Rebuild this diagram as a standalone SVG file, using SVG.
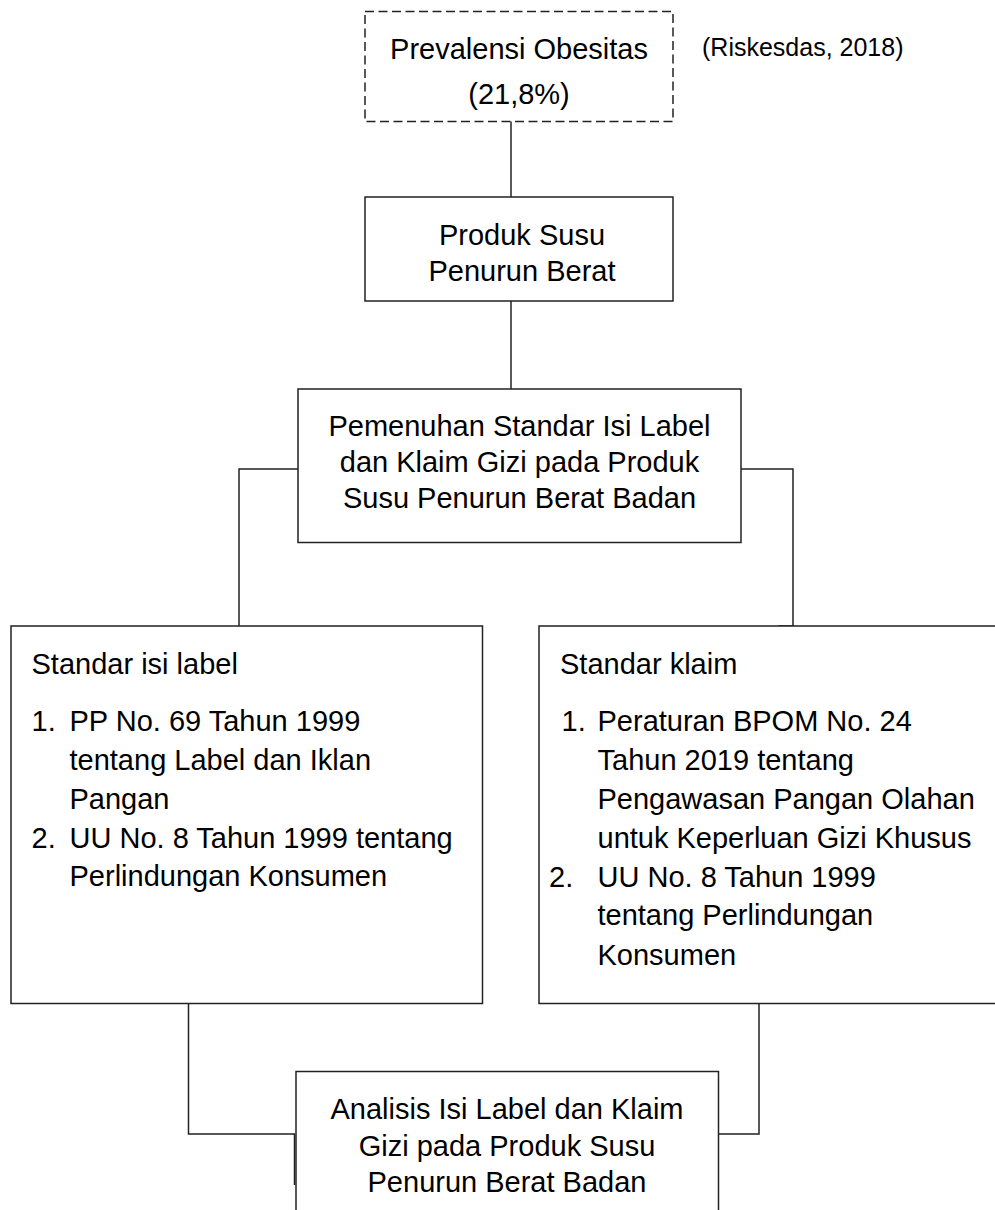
<svg xmlns="http://www.w3.org/2000/svg" width="995" height="1210" viewBox="0 0 995 1210">
<style>
.box{fill:#fff;stroke:#222;stroke-width:1.5}
.dash{fill:#fff;stroke:#222;stroke-width:1.5;stroke-dasharray:9 4.5}
.con{fill:none;stroke:#222;stroke-width:1.5}
text{font-family:"Liberation Sans",Arial,sans-serif;font-size:29px;fill:#000}
.c{text-anchor:middle}
.src{font-size:25px}
</style>
<rect width="995" height="1210" fill="#fff"/>
<g id="connectors">
<path class="con" d="M511,121 V197"/>
<path class="con" d="M511,301 V389"/>
<path class="con" d="M298,469 H239 V626"/>
<path class="con" d="M741,469 H793 V626 H778"/>
<path class="con" d="M188.5,1003 V1134 H294.5 V1185"/>
<path class="con" d="M759,1003 V1134 H718"/>
</g>
<g id="prevalensi">
<rect class="dash" x="365" y="11.5" width="308" height="110"/>
<text class="c" x="519" y="59">Prevalensi Obesitas</text>
<text class="c" x="519" y="104">(21,8%)</text>
</g>
<g id="sumber">
<text class="src" x="702" y="56">(Riskesdas, 2018)</text>
</g>
<g id="produk">
<rect class="box" x="365" y="197" width="308" height="104"/>
<text class="c" x="522" y="245">Produk Susu</text>
<text class="c" x="522" y="281">Penurun Berat</text>
</g>
<g id="pemenuhan">
<rect class="box" x="298" y="389" width="443" height="153.5"/>
<text class="c" x="519.5" y="435.5">Pemenuhan Standar Isi Label</text>
<text class="c" x="519.5" y="472">dan Klaim Gizi pada Produk</text>
<text class="c" x="519.5" y="508">Susu Penurun Berat Badan</text>
</g>
<g id="standar-isi-label">
<rect class="box" x="11" y="626" width="471.5" height="377.5"/>
<text x="31.5" y="674">Standar isi label</text>
<text x="31.5" y="731">1.</text>
<text x="69.5" y="731">PP No. 69 Tahun 1999</text>
<text x="69.5" y="769.5">tentang Label dan Iklan</text>
<text x="69.5" y="808.5">Pangan</text>
<text x="31.5" y="847.5">2.</text>
<text x="69.5" y="847.5">UU No. 8 Tahun 1999 tentang</text>
<text x="69.5" y="886">Perlindungan Konsumen</text>
</g>
<g id="standar-klaim">
<rect class="box" x="539" y="626" width="480" height="377.5"/>
<text x="560" y="674">Standar klaim</text>
<text x="561.5" y="731">1.</text>
<text x="597.5" y="731">Peraturan BPOM No. 24</text>
<text x="597.5" y="769.5">Tahun 2019 tentang</text>
<text x="597.5" y="808.5">Pengawasan Pangan Olahan</text>
<text x="597.5" y="847.5">untuk Keperluan Gizi Khusus</text>
<text x="549" y="886.5">2.</text>
<text x="597.5" y="886.5">UU No. 8 Tahun 1999</text>
<text x="597.5" y="925">tentang Perlindungan</text>
<text x="597.5" y="964.5">Konsumen</text>
</g>
<g id="analisis">
<rect class="box" x="296" y="1071.5" width="422.5" height="170"/>
<text class="c" x="507" y="1118.5">Analisis Isi Label dan Klaim</text>
<text class="c" x="507" y="1155.5">Gizi pada Produk Susu</text>
<text class="c" x="507" y="1192">Penurun Berat Badan</text>
</g>
</svg>
